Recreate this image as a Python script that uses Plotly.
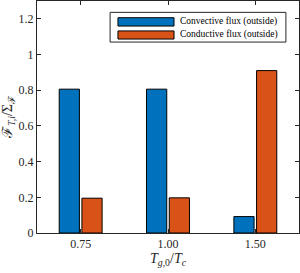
import plotly.graph_objects as go

categories = ["0.75", "1.00", "1.50"]
convective = [0.806, 0.806, 0.092]
conductive = [0.195, 0.197, 0.910]
series_names = ["Convective flux (outside)", "Conductive flux (outside)"]
colors = ["#0072BD", "#D95319"]
yticks = [0, 0.2, 0.4, 0.6, 0.8, 1.0, 1.2]

FONT = "Liberation Serif, Times New Roman, serif"
AX = "#262626"

fig = go.Figure()
for name, vals, col in zip(series_names, [convective, conductive], colors):
    fig.add_trace(go.Bar(x=categories, y=vals, name=name,
                         marker=dict(color=col, line=dict(color="black", width=1)),
                         showlegend=False))

fig.update_layout(
    width=300, height=273,
    margin=dict(l=37, r=1, t=1, b=40),
    paper_bgcolor="white", plot_bgcolor="white",
    barmode="group", bargap=0.48, bargroupgap=0.11,
    font=dict(family=FONT, size=12, color=AX),
)
fig.update_xaxes(type="category", showline=True, linecolor=AX, linewidth=1, mirror="ticks",
                 ticks="inside", ticklen=4, tickcolor=AX, showgrid=False, automargin=False,
                 tickfont=dict(family=FONT, size=12, color=AX),
                 title=dict(text="<i>T</i><sub><i>g</i>,0</sub>/<i>T</i><sub><i>c</i></sub>",
                            font=dict(family=FONT, size=14, color=AX), standoff=2))
fig.update_yaxes(range=[0, 1.3], tickvals=yticks, showline=True, linecolor=AX, linewidth=1,
                 mirror="ticks", ticks="inside", ticklen=4, tickcolor=AX, showgrid=False,
                 zeroline=False, automargin=False, tickfont=dict(family=FONT, size=12, color=AX),
                 title=dict(text="ℱ<sub><i>T,i</i></sub>/Σ<sub>ℱ</sub>",
                            font=dict(family=FONT, size=14, color=AX), standoff=2))

# legend drawn as box + swatches + text
fig.add_shape(type="rect", xref="paper", yref="paper", x0=0.279, x1=0.950, y0=0.823, y1=0.951,
              line=dict(color=AX, width=1), fillcolor="white", layer="above")
sw_y = [(0.892, 0.928), (0.836, 0.871)]
for (y0, y1), name, col in zip(sw_y, series_names, colors):
    fig.add_shape(type="rect", xref="paper", yref="paper", x0=0.309, x1=0.523, y0=y0, y1=y1,
                  line=dict(color="black", width=1), fillcolor=col, layer="above")
    fig.add_annotation(xref="paper", yref="paper", x=0.538, y=(y0 + y1) / 2, text=name,
                       showarrow=False, xanchor="left", yanchor="middle",
                       font=dict(family=FONT, size=9.5, color="black"))

fig.write_html("out.html", config={"displayModeBar": False},
               post_script="document.body.style.margin='0';document.body.style.padding='0';")
